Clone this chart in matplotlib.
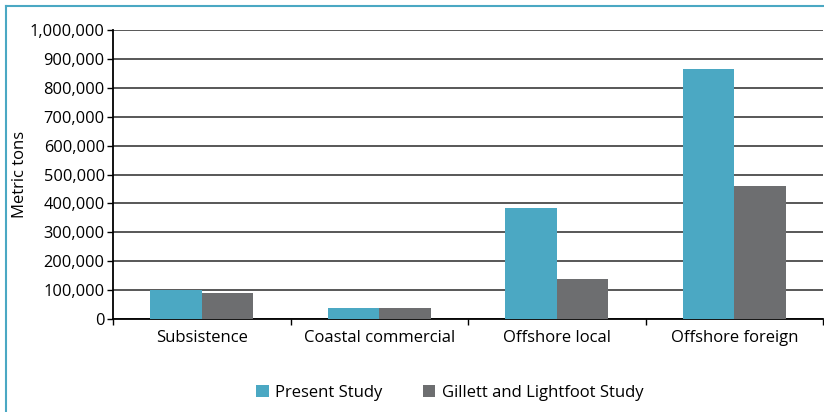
import matplotlib
matplotlib.use("Agg")
import matplotlib.pyplot as plt
from matplotlib.lines import Line2D
from matplotlib.ticker import FuncFormatter
import numpy as np

categories = ["Subsistence", "Coastal commercial", "Offshore local", "Offshore foreign"]
present_study = [101000, 38000, 385000, 865000]
gillett_lightfoot = [91000, 38000, 138000, 460000]
series_names = ["Present Study", "Gillett and Lightfoot Study"]

teal = "#4ba8c3"
grey = "#6d6e70"

plt.rcParams['font.family'] = ['Open Sans', 'DejaVu Sans']

fig = plt.figure(figsize=(8.24, 4.12), dpi=100)
ax = fig.add_axes([0.1371, 0.2257, 0.862, 0.7015])

x = np.arange(len(categories))
w = 0.29
ax.bar(x - w / 2, present_study, w, color=teal, label=series_names[0], zorder=3)
ax.bar(x + w / 2, gillett_lightfoot, w, color=grey, label=series_names[1], zorder=3)

ax.set_xlim(-0.5, len(categories) - 0.5)
ax.set_ylim(0, 1000000)
ax.set_yticks(np.arange(0, 1000001, 100000))
ax.yaxis.set_major_formatter(FuncFormatter(lambda v, p: "{:,.0f}".format(v)))
ax.yaxis.grid(True, color="#2a2a2a", linewidth=1.1, zorder=0)

ax.set_xticks(x)
ax.set_xticklabels(categories)
ax.set_xticks(np.arange(-0.5, len(categories), 1), minor=True)
ax.tick_params(axis="x", which="major", length=0, pad=8, labelsize=12)
ax.tick_params(axis="x", which="minor", length=4, width=1, color="black")
ax.tick_params(axis="y", length=4, width=1, labelsize=11.8, pad=2)

for s in ["top", "right"]:
    ax.spines[s].set_visible(False)
ax.spines["left"].set_linewidth(1.3)
ax.spines["bottom"].set_linewidth(1.3)

ax.set_ylabel("Metric tons", fontsize=12)
ax.yaxis.set_label_coords(-0.12, 0.5)

fig.legend(loc="center", bbox_to_anchor=(0.546, 0.046), ncol=2, frameon=False,
           fontsize=12, handlelength=0.75, handleheight=0.75, handletextpad=0.4,
           columnspacing=2.4)

# teal frame on top and left
fig.add_artist(Line2D([6 / 824, 6 / 824], [0, 1 - 6 / 412], color=teal, linewidth=1.5))
fig.add_artist(Line2D([6 / 824, 1], [1 - 6 / 412, 1 - 6 / 412], color=teal, linewidth=1.5))

fig.savefig("out.png", dpi=100)
